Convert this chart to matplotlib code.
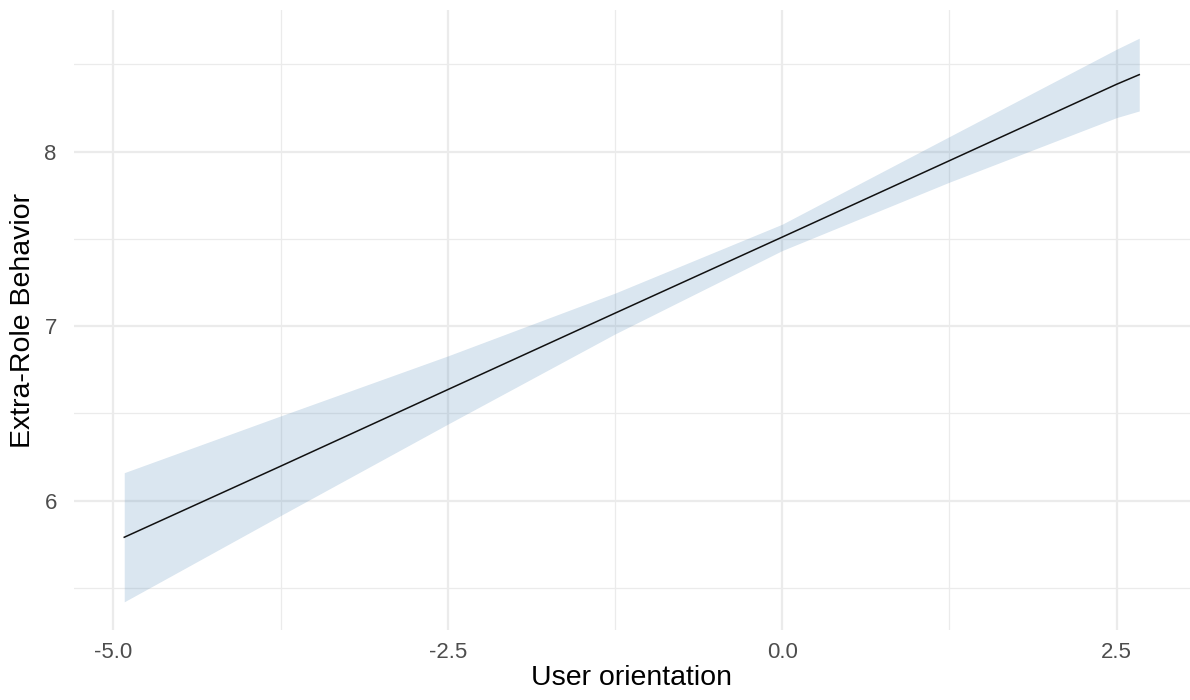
import numpy as np
import matplotlib.pyplot as plt
from matplotlib.ticker import MultipleLocator

plt.rcParams['font.family'] = ['Liberation Sans', 'DejaVu Sans']

# 값은 그림에서 읽음
user_orientation = [-4.918, -3.75, -2.5, -1.25, 0.0, 1.25, 2.5, 2.669]
fit = [5.790, 6.197, 6.636, 7.074, 7.510, 7.948, 8.386, 8.441]
ci_upper = [6.160, 6.485, 6.829, 7.189, 7.584, 8.086, 8.587, 8.650]
ci_lower = [5.420, 5.914, 6.438, 6.955, 7.433, 7.825, 8.195, 8.233]

x_ticks = [-5.0, -2.5, 0.0, 2.5]
y_ticks = [6, 7, 8]

fig = plt.figure(figsize=(11.9, 7), dpi=100)
ax = fig.add_axes([73.5 / 1190, 70 / 700, 1 - 73.5 / 1190, 620 / 700])

# 회귀선 + 신뢰구간
ax.fill_between(user_orientation, ci_lower, ci_upper, color='steelblue', alpha=0.2,
                linewidth=0, zorder=2)
ax.plot(user_orientation, fit, color='#111111', linewidth=1.1, zorder=3)

# 축 범위 (ggplot 5% 확장)
xr = max(user_orientation) - min(user_orientation)
yr = max(ci_upper) - min(ci_lower)
ax.set_xlim(min(user_orientation) - 0.05 * xr, max(user_orientation) + 0.05 * xr)
ax.set_ylim(min(ci_lower) - 0.05 * yr, max(ci_upper) + 0.05 * yr)

ax.set_xticks(x_ticks)
ax.set_xticklabels([f'{v:.1f}' for v in x_ticks])
ax.set_yticks(y_ticks)
ax.set_yticklabels([str(v) for v in y_ticks])
ax.xaxis.set_minor_locator(MultipleLocator(1.25))
ax.yaxis.set_minor_locator(MultipleLocator(0.5))

# theme_minimal 스타일
ax.grid(which='major', color='#EBEBEB', linewidth=1.6, zorder=0)
ax.grid(which='minor', color='#EBEBEB', linewidth=0.9, zorder=0)
ax.set_axisbelow(True)
for s in ax.spines.values():
    s.set_visible(False)
ax.tick_params(which='both', length=0)
ax.tick_params(axis='x', labelsize=16, labelcolor='#4D4D4D', pad=9)
ax.tick_params(axis='y', labelsize=16, labelcolor='#4D4D4D', pad=12)

ax.set_xlabel('User orientation', fontsize=20.5, labelpad=1)
ax.set_ylabel('Extra-Role Behavior', fontsize=20.5, labelpad=6)

fig.savefig('out.png', dpi=100)
